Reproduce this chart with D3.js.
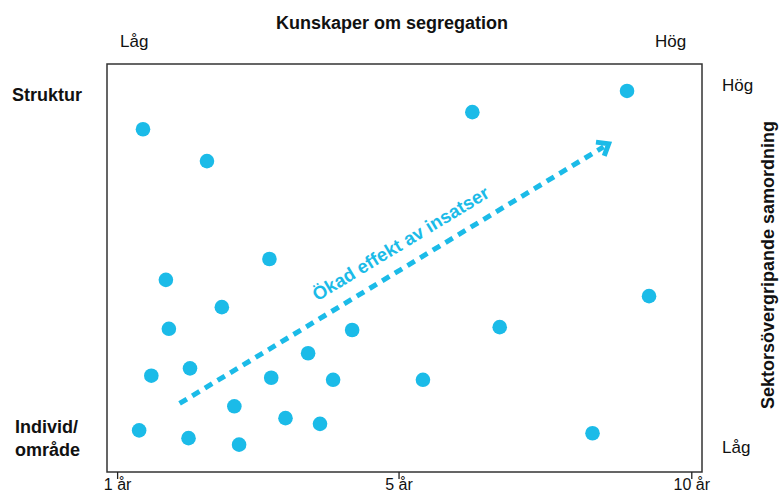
<!DOCTYPE html>
<html>
<head>
<meta charset="utf-8">
<script src="https://cdn.jsdelivr.net/npm/d3@7"></script>
<style>
  html, body { margin: 0; padding: 0; background: #fff; }
  svg { display: block; font-family: "Liberation Sans", Arial, Helvetica, sans-serif; }
</style>
</head>
<body>
<svg id="chart" width="779" height="495"></svg>
<script>
// ---- data (knowledge 0-100 on x, coordination 0-100 on y) ----
const knowledge = [6.05, 16.8, 61.4, 87.4, 27.3, 9.9, 19.3, 10.4, 41.2, 66.0, 91.1, 33.8,
                   7.45, 13.95, 27.6, 38.0, 53.1, 21.4, 5.4, 13.7, 22.2, 30.0, 35.8, 81.6];
const coordination = [84.0, 76.2, 88.2, 93.4, 52.2, 47.1, 40.4, 35.1, 34.8, 35.5, 43.1, 29.1,
                      23.6, 25.4, 23.1, 22.6, 22.6, 16.1, 10.2, 8.3, 6.7, 13.2, 11.8, 9.5];
const xTickValues = [1.7, 49.0, 98.2];
const xTickLabels = ["1 år", "5 år", "10 år"];
const arrowFrom = [12.2, 16.8];
const arrowTo = [84.6, 80.7];
const arrowLabel = "Ökad effekt av insatser";
const titleTop = "Kunskaper om segregation";
const titleRight = "Sektorsövergripande samordning";
const yLabelHigh = "Struktur";
const yLabelLow = ["Individ/", "område"];
const lowText = "Låg", highText = "Hög";

const blue = "#1bbbe8";
const svg = d3.select("#chart");
const box = { left: 107, right: 702, top: 64, bottom: 472 };

const x = d3.scaleLinear().domain([0, 100]).range([box.left, box.right]);
const y = d3.scaleLinear().domain([0, 100]).range([box.bottom, box.top]);

// frame
svg.append("rect")
  .attr("x", box.left).attr("y", box.top)
  .attr("width", box.right - box.left).attr("height", box.bottom - box.top)
  .attr("fill", "none").attr("stroke", "#333").attr("stroke-width", 1.5);

// bottom axis
const ax = svg.append("g").attr("transform", `translate(0,${box.bottom})`)
  .call(d3.axisBottom(x).tickValues(xTickValues).tickFormat((d, i) => xTickLabels[i]).tickSize(7).tickSizeOuter(0));
ax.select(".domain").remove();
ax.selectAll(".tick line").attr("stroke", "#222").attr("stroke-width", 1.3);
ax.selectAll(".tick text").attr("font-size", 16).attr("fill", "#111")
  .attr("font-family", "Liberation Sans, Arial, sans-serif").attr("y", 7);

// points
svg.append("g").selectAll("circle")
  .data(knowledge.map((k, i) => [k, coordination[i]]))
  .join("circle")
  .attr("cx", d => x(d[0])).attr("cy", d => y(d[1]))
  .attr("r", 7.3).attr("fill", blue);

// arrow
const x0 = x(arrowFrom[0]), y0 = y(arrowFrom[1]);
const x1 = x(arrowTo[0]), y1 = y(arrowTo[1]);
const ang = Math.atan2(y1 - y0, x1 - x0);
const ux = Math.cos(ang), uy = Math.sin(ang);
svg.append("line")
  .attr("x1", x0).attr("y1", y0)
  .attr("x2", x1 - ux * 8).attr("y2", y1 - uy * 8)
  .attr("stroke", blue).attr("stroke-width", 5).attr("stroke-dasharray", "8.5,6.3");
svg.append("path")
  .attr("d", "M-10,-8 L0,0 L-10,8")
  .attr("transform", `translate(${x1 - ux * 2},${y1 - uy * 2}) rotate(${ang * 180 / Math.PI})`)
  .attr("fill", "none").attr("stroke", blue).attr("stroke-width", 5)
  .attr("stroke-linejoin", "miter");

// arrow label
const t = 0.54, off = 16;
const lx = x0 + (x1 - x0) * t + uy * off, ly = y0 + (y1 - y0) * t - ux * off;
svg.append("text")
  .attr("transform", `translate(${lx},${ly}) rotate(${ang * 180 / Math.PI})`)
  .attr("text-anchor", "middle").attr("font-size", 18.5).attr("font-weight", "bold")
  .attr("fill", blue).text(arrowLabel);

// titles and labels
svg.append("text").attr("x", 392).attr("y", 29).attr("text-anchor", "middle")
  .attr("font-size", 18).attr("font-weight", "bold").attr("fill", "#111").text(titleTop);
svg.append("text").attr("x", 120).attr("y", 47).attr("font-size", 17).attr("fill", "#111").text(lowText);
svg.append("text").attr("x", 655).attr("y", 47).attr("font-size", 17).attr("fill", "#111").text(highText);
svg.append("text").attr("x", 722).attr("y", 91).attr("font-size", 17).attr("fill", "#111").text(highText);
svg.append("text").attr("x", 722).attr("y", 453).attr("font-size", 17).attr("fill", "#111").text(lowText);

svg.append("text").attr("x", 12).attr("y", 101).attr("font-size", 18).attr("font-weight", "bold")
  .attr("fill", "#111").text(yLabelHigh);
svg.append("text").attr("x", 15).attr("font-size", 18).attr("font-weight", "bold").attr("fill", "#111")
  .selectAll("tspan").data(yLabelLow).join("tspan")
  .attr("x", 15).attr("y", (d, i) => 433 + i * 23).text(d => d);

svg.append("text")
  .attr("transform", "translate(774,265) rotate(-90)")
  .attr("text-anchor", "middle").attr("font-size", 18).attr("font-weight", "bold")
  .attr("fill", "#111").text(titleRight);
</script>
</body>
</html>
